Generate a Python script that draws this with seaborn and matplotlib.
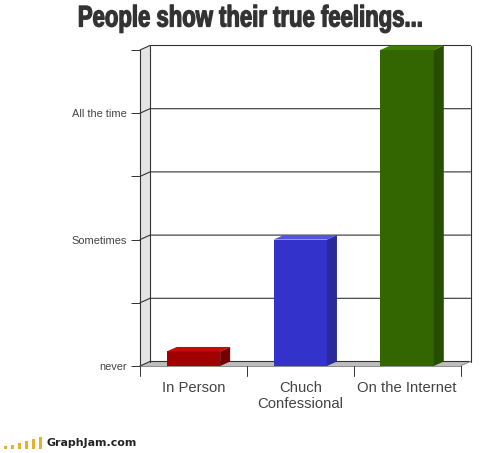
import matplotlib
matplotlib.use("Agg")
import matplotlib.pyplot as plt
import matplotlib.patheffects as pe
from matplotlib.transforms import Affine2D
import pandas as pd
import seaborn as sns
from matplotlib.patches import Polygon

categories = ["In Person", "Chuch\nConfessional", "On the Internet"]
values = [0.23, 2.0, 5.0]
front_colors = ["#a10000", "#3333cc", "#336600"]
top_colors = ["#c40a0a", "#5353e6", "#3f7d00"]
side_colors = ["#760000", "#2a2a99", "#264d00"]
y_ticks = [0, 1, 2, 3, 4, 5]
y_labels = ["never", "", "Sometimes", "", "All the time", ""]
logo_heights = [3, 4, 6, 8, 10, 12]


class Squeeze(pe.AbstractPathEffect):
    # narrows the glyphs around a fixed x, no condensed bold font is installed
    def __init__(self, cx, sx):
        super().__init__()
        self.cx, self.sx = cx, sx

    def draw_path(self, renderer, gc, tpath, affine, rgbFace=None):
        t = affine + Affine2D().translate(-self.cx, 0).scale(self.sx, 1).translate(self.cx, 0)
        gc2 = renderer.new_gc()
        gc2.copy_properties(gc)
        gc2.set_foreground(rgbFace)
        gc2.set_linewidth(0.9)
        renderer.draw_path(gc2, tpath, t, rgbFace)
        gc2.restore()


sns.set_theme(style="white")
plt.rcParams["font.family"] = ["Liberation Sans", "DejaVu Sans"]

W, H = 504, 453
fig = plt.figure(figsize=(W / 100, H / 100), dpi=100, facecolor="white")
ax = fig.add_axes([140 / W, 1 - 366 / H, 320.5 / W, 316 / H])

df = pd.DataFrame({"category": categories, "value": values})
sns.barplot(data=df, x="category", y="value", hue="category", palette=front_colors,
            legend=False, width=0.5, saturation=1, linewidth=0, edgecolor="none", ax=ax, zorder=5)
ax.set_xlim(-0.5, 2.5)
ax.set_ylim(0, 5)

# depth of the fake 3d, in data units
dx = 10 / (320.5 / 3)
dy = 4.5 / (316 / 5)
line_c = "#333333"

# left wall and floor
ax.add_patch(Polygon([(-0.5, 0), (-0.5 + dx, dy), (-0.5 + dx, 5 + dy), (-0.5, 5)],
                     fc="#e4e4e4", ec="none", clip_on=False, zorder=1))
ax.add_patch(Polygon([(-0.5, 0), (2.5, 0), (2.5 + dx, dy), (-0.5 + dx, dy)],
                     fc="#bdbdbd", ec="none", clip_on=False, zorder=1))

# grid on the back wall, with the slanted bit on the left wall
for t in y_ticks:
    ax.plot([-0.5, -0.5 + dx, 2.5 + dx], [t, t + dy, t + dy], color=line_c, lw=0.8,
            clip_on=False, zorder=2, solid_joinstyle="miter")
ax.plot([-0.5, -0.5], [0, 5], color=line_c, lw=0.8, clip_on=False, zorder=2)
ax.plot([-0.5 + dx, -0.5 + dx], [dy, 5 + dy], color=line_c, lw=0.8, clip_on=False, zorder=2)
ax.plot([2.5 + dx, 2.5 + dx], [dy, 5 + dy], color=line_c, lw=0.8, clip_on=False, zorder=2)
ax.plot([2.5, 2.5 + dx], [0, dy], color="#8c8c8c", lw=0.7, clip_on=False, zorder=2)
ax.plot([-0.5, 2.5], [0, 0], color="#8c8c8c", lw=0.7, clip_on=False, zorder=2)

# top and side faces of the bars
for bar, top_c, side_c in zip(ax.patches[:len(values)], top_colors, side_colors):
    x0 = bar.get_x()
    x1 = x0 + bar.get_width()
    h = bar.get_height()
    ax.add_patch(Polygon([(x0, h), (x1, h), (x1 + dx, h + dy), (x0 + dx, h + dy)],
                         fc=top_c, ec="none", clip_on=False, zorder=6))
    ax.add_patch(Polygon([(x1, 0), (x1 + dx, dy), (x1 + dx, h + dy), (x1, h)],
                         fc=side_c, ec="none", clip_on=False, zorder=6))

sns.despine(ax=ax, left=True, bottom=True)
ax.set_xlabel("")
ax.set_ylabel("")
ax.set_yticks(y_ticks, y_labels, fontsize=7.9, color="#444444")
ax.set_xticks([0, 1, 2], categories, fontsize=10.7, color="#444444", linespacing=1.12)
ax.tick_params(axis="y", left=True, length=6.5, width=0.7, color=line_c, pad=3)
ax.tick_params(axis="x", bottom=False, pad=5)
# category separators hang below the floor
for edge in [-0.5, 0.5, 1.5, 2.5]:
    ax.plot([edge, edge], [0, -10 / (316 / 5)], color=line_c, lw=0.7, clip_on=False, zorder=2)

title = fig.text(250.5 / W, 1 - 18.5 / H, "People show their true feelings...", ha="center", va="center",
                 fontsize=21.5, fontweight="bold", color="#333333")
title.set_path_effects([Squeeze(250.5, 0.74)])

# logo
logo = fig.add_axes([2 / W, 1 - 449 / H, 42 / W, 12 / H])
logo_x = list(range(len(logo_heights)))
sns.barplot(x=logo_x, y=logo_heights, color="#e8b030", saturation=1, width=0.5,
            linewidth=0, edgecolor="none", ax=logo)
logo.set_ylim(0, 12)
logo.axis("off")
fig.text(46.5 / W, 1 - 443 / H, "GraphJam.com", ha="left", va="center", fontsize=7.9,
         fontweight="bold", color="#222222", family=["DejaVu Sans"])

fig.savefig("out.png", dpi=100)
